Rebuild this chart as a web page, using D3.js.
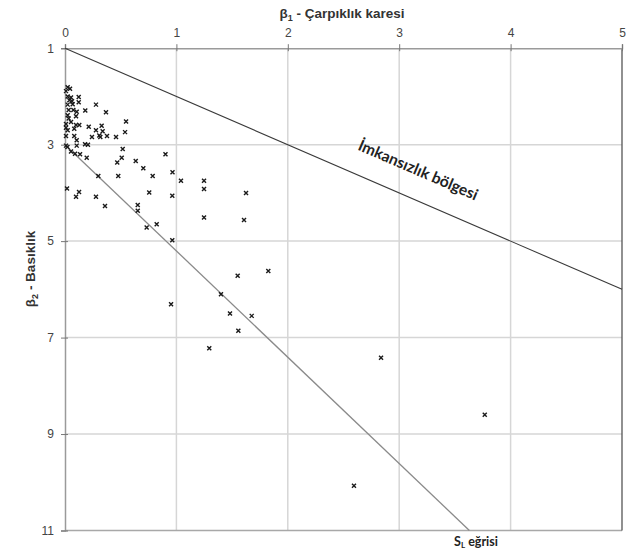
<!DOCTYPE html>
<html>
<head>
<meta charset="utf-8">
<script src="https://cdn.jsdelivr.net/npm/d3@7"></script>
<style>
  html, body { margin: 0; padding: 0; background: #fff; }
  svg { display: block; }
</style>
</head>
<body>
<svg id="chart" width="636" height="549"></svg>
<script>
// Axis ticks
const xTicks = [0, 1, 2, 3, 4, 5];
const yTicks = [1, 3, 5, 7, 9, 11];

// Observed distributions: squared skewness (β1) and kurtosis (β2)
const beta1 = [
  0.024, 0.045, 0.009, 0.024, 0.054, 0.123, 0.039, 0.063, 0.123, 0.024,
  0.069, 0.278, 0.033, 0.075, 0.182, 0.368, 0.105, 0.024, 0.033, 0.099,
  0.009, 0.054, 0.099, 0.128, 0.009, 0.213, 0.278, 0.024, 0.083, 0.338,
  0.308, 0.317, 0.242, 0.377, 0.458, 0.009, 0.083, 0.105, 0.009, 0.022,
  0.180, 0.206, 0.105, 0.054, 0.090, 0.135, 0.548, 0.329, 0.539, 0.195,
  0.518, 0.509, 0.469, 0.635, 0.703, 0.902, 0.299, 0.478, 0.787, 0.965,
  1.041, 1.248, 1.248, 1.625, 0.018, 0.099, 0.126, 0.278, 0.359, 0.756,
  0.963, 0.653, 0.653, 1.248, 1.607, 0.823, 0.733, 0.963, 1.550, 1.825,
  1.400, 0.952, 1.481, 1.676, 1.556, 1.295, 2.837, 3.768, 2.594
];
const beta2 = [
  1.81, 1.84, 1.89, 2.00, 2.02, 2.01, 2.08, 2.10, 2.12, 2.17,
  2.16, 2.17, 2.28, 2.28, 2.29, 2.33, 2.32, 2.39, 2.46, 2.41,
  2.57, 2.53, 2.59, 2.59, 2.65, 2.63, 2.70, 2.70, 2.67, 2.72,
  2.81, 2.84, 2.84, 2.82, 2.84, 2.82, 2.82, 2.91, 3.02, 3.05,
  2.99, 3.00, 3.02, 3.14, 3.19, 3.20, 2.52, 2.61, 2.74, 3.27,
  3.09, 3.27, 3.37, 3.34, 3.49, 3.20, 3.65, 3.65, 3.65, 3.57,
  3.75, 3.75, 3.92, 4.00, 3.91, 4.08, 3.98, 4.08, 4.27, 3.99,
  4.06, 4.25, 4.37, 4.51, 4.56, 4.65, 4.72, 4.98, 5.72, 5.62,
  6.10, 6.31, 6.50, 6.55, 6.86, 7.22, 7.42, 8.60, 10.07
];

// Reference lines: impossible-region limit (β2 = β1 + 1) and the S_L curve
const limitLine = [[0, 1], [5, 6]];
const slLine = [[0, 3], [3.63, 11]];

const svg = d3.select("#chart");
const x = d3.scaleLinear().domain([0, 5]).range([65, 622]);
const y = d3.scaleLinear().domain([1, 11]).range([48.2, 530.5]);

const font = "'Liberation Sans', Arial, sans-serif";

// Grid
const grid = svg.append("g").attr("stroke", "#d6d6d6").attr("stroke-width", 1.5);
grid.selectAll("line.v").data(xTicks.filter(d => d > 0 && d < 5)).join("line")
  .attr("x1", d => x(d)).attr("x2", d => x(d))
  .attr("y1", y(1)).attr("y2", y(11));
grid.selectAll("line.h").data(yTicks.filter(d => d > 1 && d < 11)).join("line")
  .attr("x1", x(0)).attr("x2", x(5))
  .attr("y1", d => y(d)).attr("y2", d => y(d));

// Frame: bottom and right edges
svg.append("line").attr("x1", x(0)).attr("x2", x(5)).attr("y1", y(11)).attr("y2", y(11))
  .attr("stroke", "#a8a8a8").attr("stroke-width", 1.5);
svg.append("line").attr("x1", x(5)).attr("x2", x(5)).attr("y1", y(1)).attr("y2", y(11))
  .attr("stroke", "#555").attr("stroke-width", 1.3);

// Top axis
const xAxis = svg.append("g").attr("transform", `translate(0,${y(1)})`)
  .call(d3.axisTop(x).tickValues(xTicks).tickFormat(d3.format("d")).tickSizeOuter(0).tickSize(4).tickPadding(7));
xAxis.select(".domain").attr("stroke", "#9a9a9a").attr("stroke-width", 1.5);
xAxis.selectAll(".tick line").attr("y1", 3).attr("y2", -4).attr("stroke", "#777");
xAxis.selectAll(".tick text").attr("font-family", font).attr("font-size", 12).attr("fill", "#444");

// Left axis
const yAxis = svg.append("g").attr("transform", `translate(${x(0)},0)`)
  .call(d3.axisLeft(y).tickValues(yTicks).tickFormat(d3.format("d")).tickSizeOuter(0).tickSize(4).tickPadding(7));
yAxis.select(".domain").attr("stroke", "#9a9a9a").attr("stroke-width", 1.5);
yAxis.selectAll(".tick line").attr("x1", 3).attr("x2", -4).attr("stroke", "#777");
yAxis.selectAll(".tick text").attr("font-family", font).attr("font-size", 12).attr("fill", "#444");

// Reference lines
const line = d3.line().x(d => x(d[0])).y(d => y(d[1]));
svg.append("path").datum(limitLine).attr("d", line)
  .attr("fill", "none").attr("stroke", "#3a3a3a").attr("stroke-width", 1.1);
svg.append("path").datum(slLine).attr("d", line)
  .attr("fill", "none").attr("stroke", "#8a8a8a").attr("stroke-width", 1.3);

// Points
const pts = beta1.map((b, i) => [b, beta2[i]]);
svg.append("g").selectAll("path").data(pts).join("path")
  .attr("transform", d => `translate(${x(d[0])},${y(d[1])})`)
  .attr("d", "M-2,-2L2,2M2,-2L-2,2")
  .attr("stroke", "#1a1a1a").attr("stroke-width", 1.4).attr("fill", "none");

// Axis titles
const xt = svg.append("text").attr("x", 342).attr("y", 18).attr("text-anchor", "middle")
  .attr("font-family", font).attr("font-size", 13.5).attr("font-weight", "bold").attr("fill", "#333");
xt.append("tspan").text("β");
xt.append("tspan").attr("font-size", 9).attr("dy", 3).text("1");
xt.append("tspan").attr("dy", -3).text(" - Çarpıklık karesi");

const yt = svg.append("text").attr("transform", "translate(35,269) rotate(-90)").attr("text-anchor", "middle")
  .attr("font-family", font).attr("font-size", 13.5).attr("font-weight", "bold").attr("fill", "#333");
yt.append("tspan").text("β");
yt.append("tspan").attr("font-size", 9).attr("dy", 3).text("2");
yt.append("tspan").attr("dy", -3).text(" - Basıklık");

// Region and curve labels
const angle = Math.atan2(y(6) - y(1), x(5) - x(0)) * 180 / Math.PI;
svg.append("text").attr("transform", `translate(416,175) rotate(${angle})`)
  .attr("text-anchor", "middle").attr("font-family", "Lato, 'Open Sans', sans-serif")
  .attr("font-size", 15.5).attr("font-weight", "bold").attr("fill", "#222")
  .text("İmkansızlık bölgesi");

const sl = svg.append("text").attr("x", 476).attr("y", 546).attr("text-anchor", "middle")
  .attr("font-family", "Lato, 'Open Sans', sans-serif").attr("font-size", 12.5)
  .attr("font-weight", "bold").attr("fill", "#222");
sl.append("tspan").text("S");
sl.append("tspan").attr("font-size", 8).attr("dy", 2).text("L");
sl.append("tspan").attr("dy", -2).text(" eğrisi");
</script>
</body>
</html>
